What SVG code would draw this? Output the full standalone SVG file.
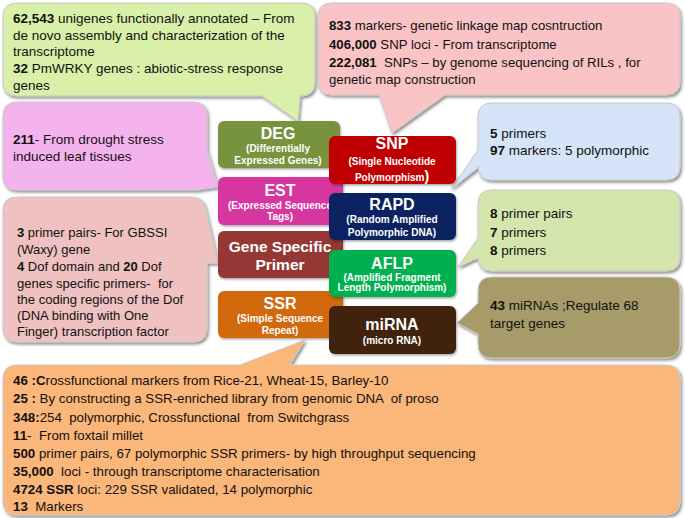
<svg xmlns="http://www.w3.org/2000/svg" width="685" height="518" viewBox="0 0 685 518">
<defs>
<filter id="sh" x="-5%" y="-5%" width="110%" height="115%">
<feDropShadow dx="1.5" dy="2" stdDeviation="1.5" flood-color="#000" flood-opacity="0.45"/>
</filter>
<filter id="bsh" x="-5%" y="-5%" width="110%" height="120%">
<feDropShadow dx="1" dy="1.5" stdDeviation="1" flood-color="#000" flood-opacity="0.35"/>
</filter>
</defs>
<style>
.co{stroke:#c8c8c8;stroke-width:1;filter:url(#sh)}
.bx{filter:url(#bsh)}
.t{font-family:"Liberation Sans",Arial,sans-serif;font-size:13.5px;fill:#111;white-space:pre}
.t2{font-family:"Liberation Sans",Arial,sans-serif;font-size:13.2px;fill:#111;white-space:pre}
.t3{font-family:"Liberation Sans",Arial,sans-serif;font-size:13px;fill:#111;white-space:pre}
.tb{font-family:"Liberation Sans",Arial,sans-serif;font-size:13.3px;fill:#111;white-space:pre}
.n{font-weight:bold}
.bt{font-family:"Liberation Sans",Arial,sans-serif;font-weight:bold;fill:#fff;text-anchor:middle;font-size:16px}
.bs{font-family:"Liberation Sans",Arial,sans-serif;font-weight:bold;fill:#fff;text-anchor:middle;font-size:10px}
</style>

<g id="callouts">
<g id="c-deg">
<path class="co" fill="#d8f0a8" d="M17,3 H301 Q315,3 315,17 V82 Q315,96 301,96 H300 L298,121 L262,96 H17 Q3,96 3,82 V17 Q3,3 17,3 Z"/>
<text class="t" x="13" y="23"><tspan class="n">62,543</tspan> unigenes functionally annotated – From</text>
<text class="t" x="13" y="39.5">de novo assembly and characterization of the</text>
<text class="t" x="13" y="56">transcriptome</text>
<text class="t" x="13" y="73"><tspan class="n">32</tspan> PmWRKY genes : abiotic-stress response</text>
<text class="t" x="13" y="89.5">genes</text>
</g>
<g id="c-snp">
<path class="co" fill="#fac3c6" d="M332,3 H666 Q680,3 680,17 V81 Q680,95 666,95 H445 L392,133 L379,95 H332 Q318,95 318,81 V17 Q318,3 332,3 Z"/>
<text class="t2" x="329" y="30"><tspan class="n">833</tspan> markers- genetic linkage map cosntruction</text>
<text class="t2" x="329" y="48.5"><tspan class="n">406,000</tspan> SNP loci - From transcriptome</text>
<text class="t2" x="329" y="67"><tspan class="n">222,081</tspan>  SNPs – by genome sequencing of RILs , for</text>
<text class="t2" x="329" y="84">genetic map construction</text>
</g>
<g id="c-est">
<path class="co" fill="#f5b3ee" d="M17,102 H193 Q207,102 207,116 V150 L218,187 L203,189 Q200,190 193,190 H17 Q3,190 3,176 V116 Q3,102 17,102 Z"/>
<text class="t" x="13" y="144"><tspan class="n">211</tspan>- From drought stress</text>
<text class="t" x="13" y="160.5">induced leaf tissues</text>
</g>
<g id="c-gsp">
<path class="co" fill="#efc1c1" d="M17,197 H191 Q203,197 205,207 L218,263 H207 V328 Q207,342 193,342 H17 Q3,342 3,328 V211 Q3,197 17,197 Z"/>
<text class="t3" x="17" y="237"><tspan class="n">3</tspan> primer pairs- For GBSSI</text>
<text class="t3" x="17" y="253.5">(Waxy) gene</text>
<text class="t3" x="17" y="271"><tspan class="n">4</tspan> Dof domain and <tspan class="n">20</tspan> Dof</text>
<text class="t3" x="17" y="287.5">genes specific primers-  for</text>
<text class="t3" x="17" y="303.5">the coding regions of the Dof</text>
<text class="t3" x="17" y="319.5">(DNA binding with One</text>
<text class="t3" x="17" y="335.5">Finger) transcription factor</text>
</g>
<g id="c-rapd">
<path class="co" fill="#d6e4f7" d="M492,103 H666 Q680,103 680,117 V166 Q680,180 666,180 H492 Q478,180 478,166 V168 L451,189 L478,150 V117 Q478,103 492,103 Z"/>
<text class="t" x="490" y="138"><tspan class="n">5</tspan> primers</text>
<text class="t" x="490" y="155"><tspan class="n">97</tspan> markers: 5 polymorphic</text>
</g>
<g id="c-aflp">
<path class="co" fill="#d4e6ad" d="M492,190 H666 Q680,190 680,204 V257 Q680,271 666,271 H492 Q478,271 478,257 V258 L458,267 L478,238 V204 Q478,190 492,190 Z"/>
<text class="t" x="490" y="218"><tspan class="n">8</tspan> primer pairs</text>
<text class="t" x="490" y="237"><tspan class="n">7</tspan> primers</text>
<text class="t" x="490" y="255"><tspan class="n">8</tspan> primers</text>
</g>
<g id="c-mirna">
<path class="co" fill="#a69b69" d="M492,277 H666 Q680,277 680,291 V344 Q680,358 666,358 H492 Q478,358 478,344 V334 L457,323 L478,303 V291 Q478,277 492,277 Z"/>
<text class="t" x="490" y="310"><tspan class="n">43</tspan> miRNAs ;Regulate 68</text>
<text class="t" x="490" y="327.5">target genes</text>
</g>
<g id="c-ssr">
<path class="co" fill="#fbb679" d="M17,365 H240 L305,340 L290,365 H666 Q680,365 680,379 V501 Q680,515 666,515 H17 Q3,515 3,501 V379 Q3,365 17,365 Z"/>
<text class="tb" x="13" y="385"><tspan class="n">46 :C</tspan>rossfunctional markers from Rice-21, Wheat-15, Barley-10</text>
<text class="tb" x="13" y="403"><tspan class="n">25 :</tspan> By constructing a SSR-enriched library from genomic DNA  of proso</text>
<text class="tb" x="13" y="422"><tspan class="n">348:</tspan>254  polymorphic, Crossfunctional  from Switchgrass</text>
<text class="tb" x="13" y="440"><tspan class="n">11</tspan>-  From foxtail millet</text>
<text class="tb" x="13" y="458"><tspan class="n">500</tspan> primer pairs, 67 polymorphic SSR primers- by high throughput sequencing</text>
<text class="tb" x="13" y="476"><tspan class="n">35,000</tspan>  loci - through transcriptome characterisation</text>
<text class="tb" x="13" y="494"><tspan class="n">4724 SSR</tspan> loci: 229 SSR validated, 14 polymorphic</text>
<text class="tb" x="13" y="511"><tspan class="n">13</tspan>  Markers</text>
</g>
</g>

<g id="connectors"></g>

<g id="boxes">
<g id="n-deg">
<rect class="bx" x="218" y="121" width="122" height="47" rx="6" fill="#77933c"/>
<text class="bt" x="278" y="139">DEG</text>
<text class="bs" x="278" y="151.5">(Differentially</text>
<text class="bs" x="278" y="163.5">Expressed Genes)</text>
</g>
<g id="n-est">
<rect class="bx" x="218" y="177" width="125" height="48" rx="6" fill="#d7369f"/>
<text class="bt" x="280" y="196">EST</text>
<text class="bs" x="280" y="208.5">(Expressed Sequence</text>
<text class="bs" x="280" y="220">Tags)</text>
</g>
<g id="n-gsp">
<rect class="bx" x="218" y="231" width="125" height="47" rx="6" fill="#953735"/>
<text class="bt" x="280" y="252" style="font-size:15.5px">Gene Specific</text>
<text class="bt" x="280" y="270" style="font-size:15.5px">Primer</text>
</g>
<g id="n-ssr">
<rect class="bx" x="218" y="291" width="125" height="47" rx="6" fill="#d2690c"/>
<text class="bt" x="280" y="309">SSR</text>
<text class="bs" x="280" y="321.5">(Simple Sequence</text>
<text class="bs" x="280" y="333.5">Repeat)</text>
</g>
<g id="n-snp">
<rect class="bx" x="329" y="136" width="127" height="48" rx="6" fill="#c00000"/>
<text class="bt" x="392" y="149">SNP</text>
<text class="bs" x="392" y="164.5">(Single Nucleotide</text>
<text class="bs" x="392" y="180.5">Polymorphism<tspan style="font-size:14px">)</tspan></text>
</g>
<g id="n-rapd">
<rect class="bx" x="329" y="193" width="127" height="47" rx="6" fill="#0e2161"/>
<text class="bt" x="392" y="210">RAPD</text>
<text class="bs" x="392" y="223">(Random Amplified</text>
<text class="bs" x="392" y="235.5">Polymorphic DNA)</text>
</g>
<g id="n-aflp">
<rect class="bx" x="329" y="250" width="127" height="47" rx="6" fill="#00b050"/>
<text class="bt" x="392" y="269">AFLP</text>
<text class="bs" x="392" y="280.5">(Amplified Fragment</text>
<text class="bs" x="392" y="291">Length Polymorphism)</text>
</g>
<g id="n-mirna">
<rect class="bx" x="329" y="306" width="127" height="48" rx="6" fill="#40220a"/>
<text class="bt" x="392" y="330">miRNA</text>
<text class="bs" x="392" y="343.5">(micro RNA)</text>
</g>
</g>
</svg>
